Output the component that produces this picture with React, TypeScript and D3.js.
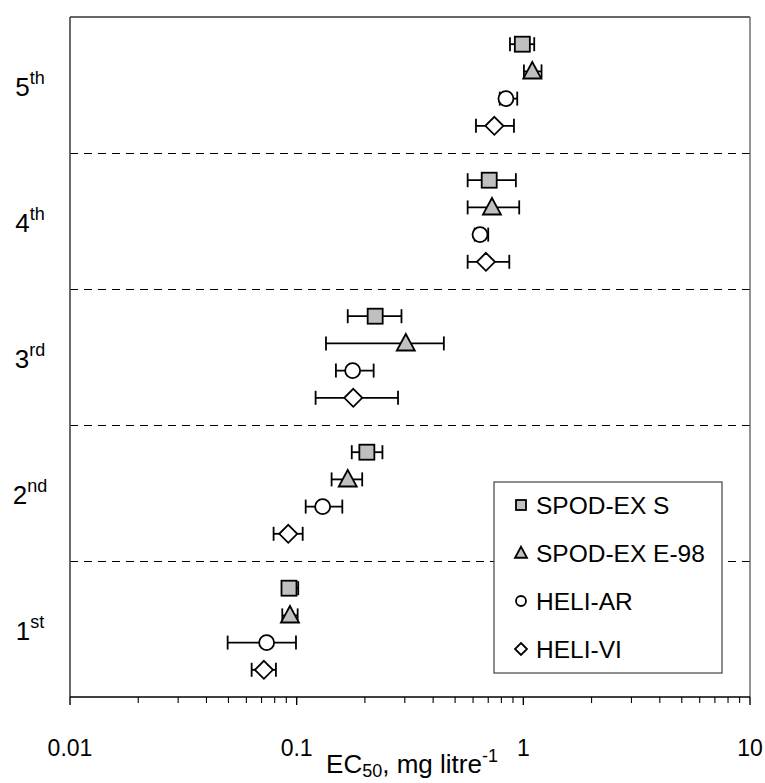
import React from "react";
import * as d3 from "d3";

const categoryNums = ["1", "2", "3", "4", "5"];
const categorySuffix = ["st", "nd", "rd", "th", "th"];
const seriesNames = ["SPOD-EX S", "SPOD-EX E-98", "HELI-AR", "HELI-VI"];
const seriesShapes = ["square", "triangle", "circle", "diamond"];
const seriesFill = ["#c0c0c0", "#c0c0c0", "#ffffff", "#ffffff"];

const spodS = [0.0925, 0.204, 0.222, 0.707, 0.99];
const spodSLow = [0.088, 0.175, 0.168, 0.568, 0.873];
const spodSHigh = [0.1016, 0.239, 0.29, 0.927, 1.117];

const spodE = [0.0934, 0.168, 0.303, 0.727, 1.095];
const spodELow = [0.0864, 0.1426, 0.1347, 0.568, 1.006];
const spodEHigh = [0.101, 0.1946, 0.446, 0.959, 1.203];

const heliAR = [0.0737, 0.1302, 0.1766, 0.644, 0.838];
const heliARLow = [0.0496, 0.1096, 0.149, 0.61, 0.787];
const heliARHigh = [0.0993, 0.159, 0.2186, 0.7, 0.94];

const heliVI = [0.0717, 0.0918, 0.1777, 0.684, 0.745];
const heliVILow = [0.0633, 0.0791, 0.1212, 0.568, 0.618];
const heliVIHigh = [0.081, 0.1063, 0.28, 0.867, 0.909];

const xTickLabels = ["0.01", "0.1", "1", "10"];

const W = 765;
const H = 783;
const M = { left: 70, right: 750, top: 17, bottom: 697 };
const FONT = "'Liberation Sans', Arial, sans-serif";

function Marker({ shape, x, y, fill, s }: { shape: string; x: number; y: number; fill: string; s: number }) {
  const sw = 1.8;
  if (shape === "square") {
    return <rect x={x - s / 2} y={y - s / 2} width={s} height={s} fill={fill} stroke="#000" strokeWidth={sw} />;
  }
  if (shape === "triangle") {
    const h = s * 1.05;
    const w = s * 1.2;
    return (
      <path
        d={`M${x},${y - h * 0.6} L${x + w / 2},${y + h * 0.45} L${x - w / 2},${y + h * 0.45} Z`}
        fill={fill}
        stroke="#000"
        strokeWidth={sw}
      />
    );
  }
  if (shape === "circle") {
    return <circle cx={x} cy={y} r={s / 2} fill={fill} stroke="#000" strokeWidth={sw} />;
  }
  const r = s * 0.6;
  return <path d={`M${x},${y - r} L${x + r},${y} L${x},${y + r} L${x - r},${y} Z`} fill={fill} stroke="#000" strokeWidth={sw} />;
}

export default function App() {
  const x = d3.scaleLog().domain([0.01, 10]).range([M.left, M.right]);
  const y = d3.scaleLinear().domain([0, 5]).range([M.bottom, M.top]);

  const series = [
    { v: spodS, lo: spodSLow, hi: spodSHigh },
    { v: spodE, lo: spodELow, hi: spodEHigh },
    { v: heliAR, lo: heliARLow, hi: heliARHigh },
    { v: heliVI, lo: heliVILow, hi: heliVIHigh },
  ];
  const offsets = [0.8, 0.6, 0.4, 0.2];

  const majorTicks = [0.01, 0.1, 1, 10];
  const minorTicks: number[] = [];
  [0.01, 0.1, 1].forEach((d) => {
    for (let k = 2; k <= 9; k++) minorTicks.push(d * k);
  });

  const capH = 7;

  return (
    <svg width={W} height={H} style={{ position: "absolute", left: 0, top: 0, background: "#fff" }} fontFamily={FONT}>
      <rect x={0} y={0} width={W} height={H} fill="#fff" />
      {[1, 2, 3, 4].map((b) => (
        <line key={b} x1={M.left} x2={M.right} y1={y(b) + 0.5} y2={y(b) + 0.5} stroke="#000" strokeWidth={1.1} strokeDasharray="8,6" />
      ))}
      <line x1={M.left} x2={M.right} y1={M.top} y2={M.top} stroke="#333" strokeWidth={1.4} />
      <line x1={M.right} x2={M.right} y1={M.top} y2={M.bottom} stroke="#666" strokeWidth={1.4} />
      <line x1={M.left} x2={M.left} y1={M.top} y2={M.bottom} stroke="#444" strokeWidth={1.6} />
      <line x1={M.left} x2={M.right} y1={M.bottom} y2={M.bottom} stroke="#000" strokeWidth={1.6} />
      {minorTicks.map((t, i) => (
        <line key={"m" + i} x1={x(t)} x2={x(t)} y1={M.bottom} y2={M.bottom + 6} stroke="#000" strokeWidth={1.1} />
      ))}
      {majorTicks.map((t, i) => (
        <g key={"M" + i}>
          <line x1={x(t)} x2={x(t)} y1={M.bottom} y2={M.bottom + 8} stroke="#000" strokeWidth={1.4} />
          <text x={x(t)} y={756} textAnchor="middle" fontSize={23} fill="#000">
            {xTickLabels[i]}
          </text>
        </g>
      ))}
      <text x={412} y={773} textAnchor="middle" fontSize={26} fill="#000">
        EC
        <tspan fontSize={18} dy={4}>50</tspan>
        <tspan dy={-4}>, mg litre</tspan>
        <tspan fontSize={18} dy={-11}>-1</tspan>
      </text>
      {categoryNums.map((c, i) => (
        <text key={c} x={30} y={y(i + 0.5) + 11} textAnchor="middle" fontSize={26} fill="#000">
          {c}
          <tspan fontSize={18} dy={-12}>{categorySuffix[i]}</tspan>
        </text>
      ))}
      {series.map((s, si) =>
        s.v.map((v, ci) => {
          const cy = y(ci + offsets[si]);
          const x0 = x(s.lo[ci]);
          const x1 = x(s.hi[ci]);
          return (
            <g key={si + "-" + ci}>
              <line x1={x0} x2={x1} y1={cy} y2={cy} stroke="#000" strokeWidth={1.8} />
              <line x1={x0} x2={x0} y1={cy - capH} y2={cy + capH} stroke="#000" strokeWidth={1.8} />
              <line x1={x1} x2={x1} y1={cy - capH} y2={cy + capH} stroke="#000" strokeWidth={1.8} />
              <Marker shape={seriesShapes[si]} x={x(v)} y={cy} fill={seriesFill[si]} s={15} />
            </g>
          );
        })
      )}
      <g>
        <rect x={494} y={482} width={228} height={191} fill="#fff" stroke="#444" strokeWidth={1.2} />
        {seriesNames.map((n, i) => (
          <g key={n}>
            <Marker shape={seriesShapes[i]} x={521} y={505 + i * 48} fill={seriesFill[i]} s={10} />
            <text x={536} y={505 + i * 48 + 9} fontSize={24.5} fill="#000">
              {n}
            </text>
          </g>
        ))}
      </g>
    </svg>
  );
}
